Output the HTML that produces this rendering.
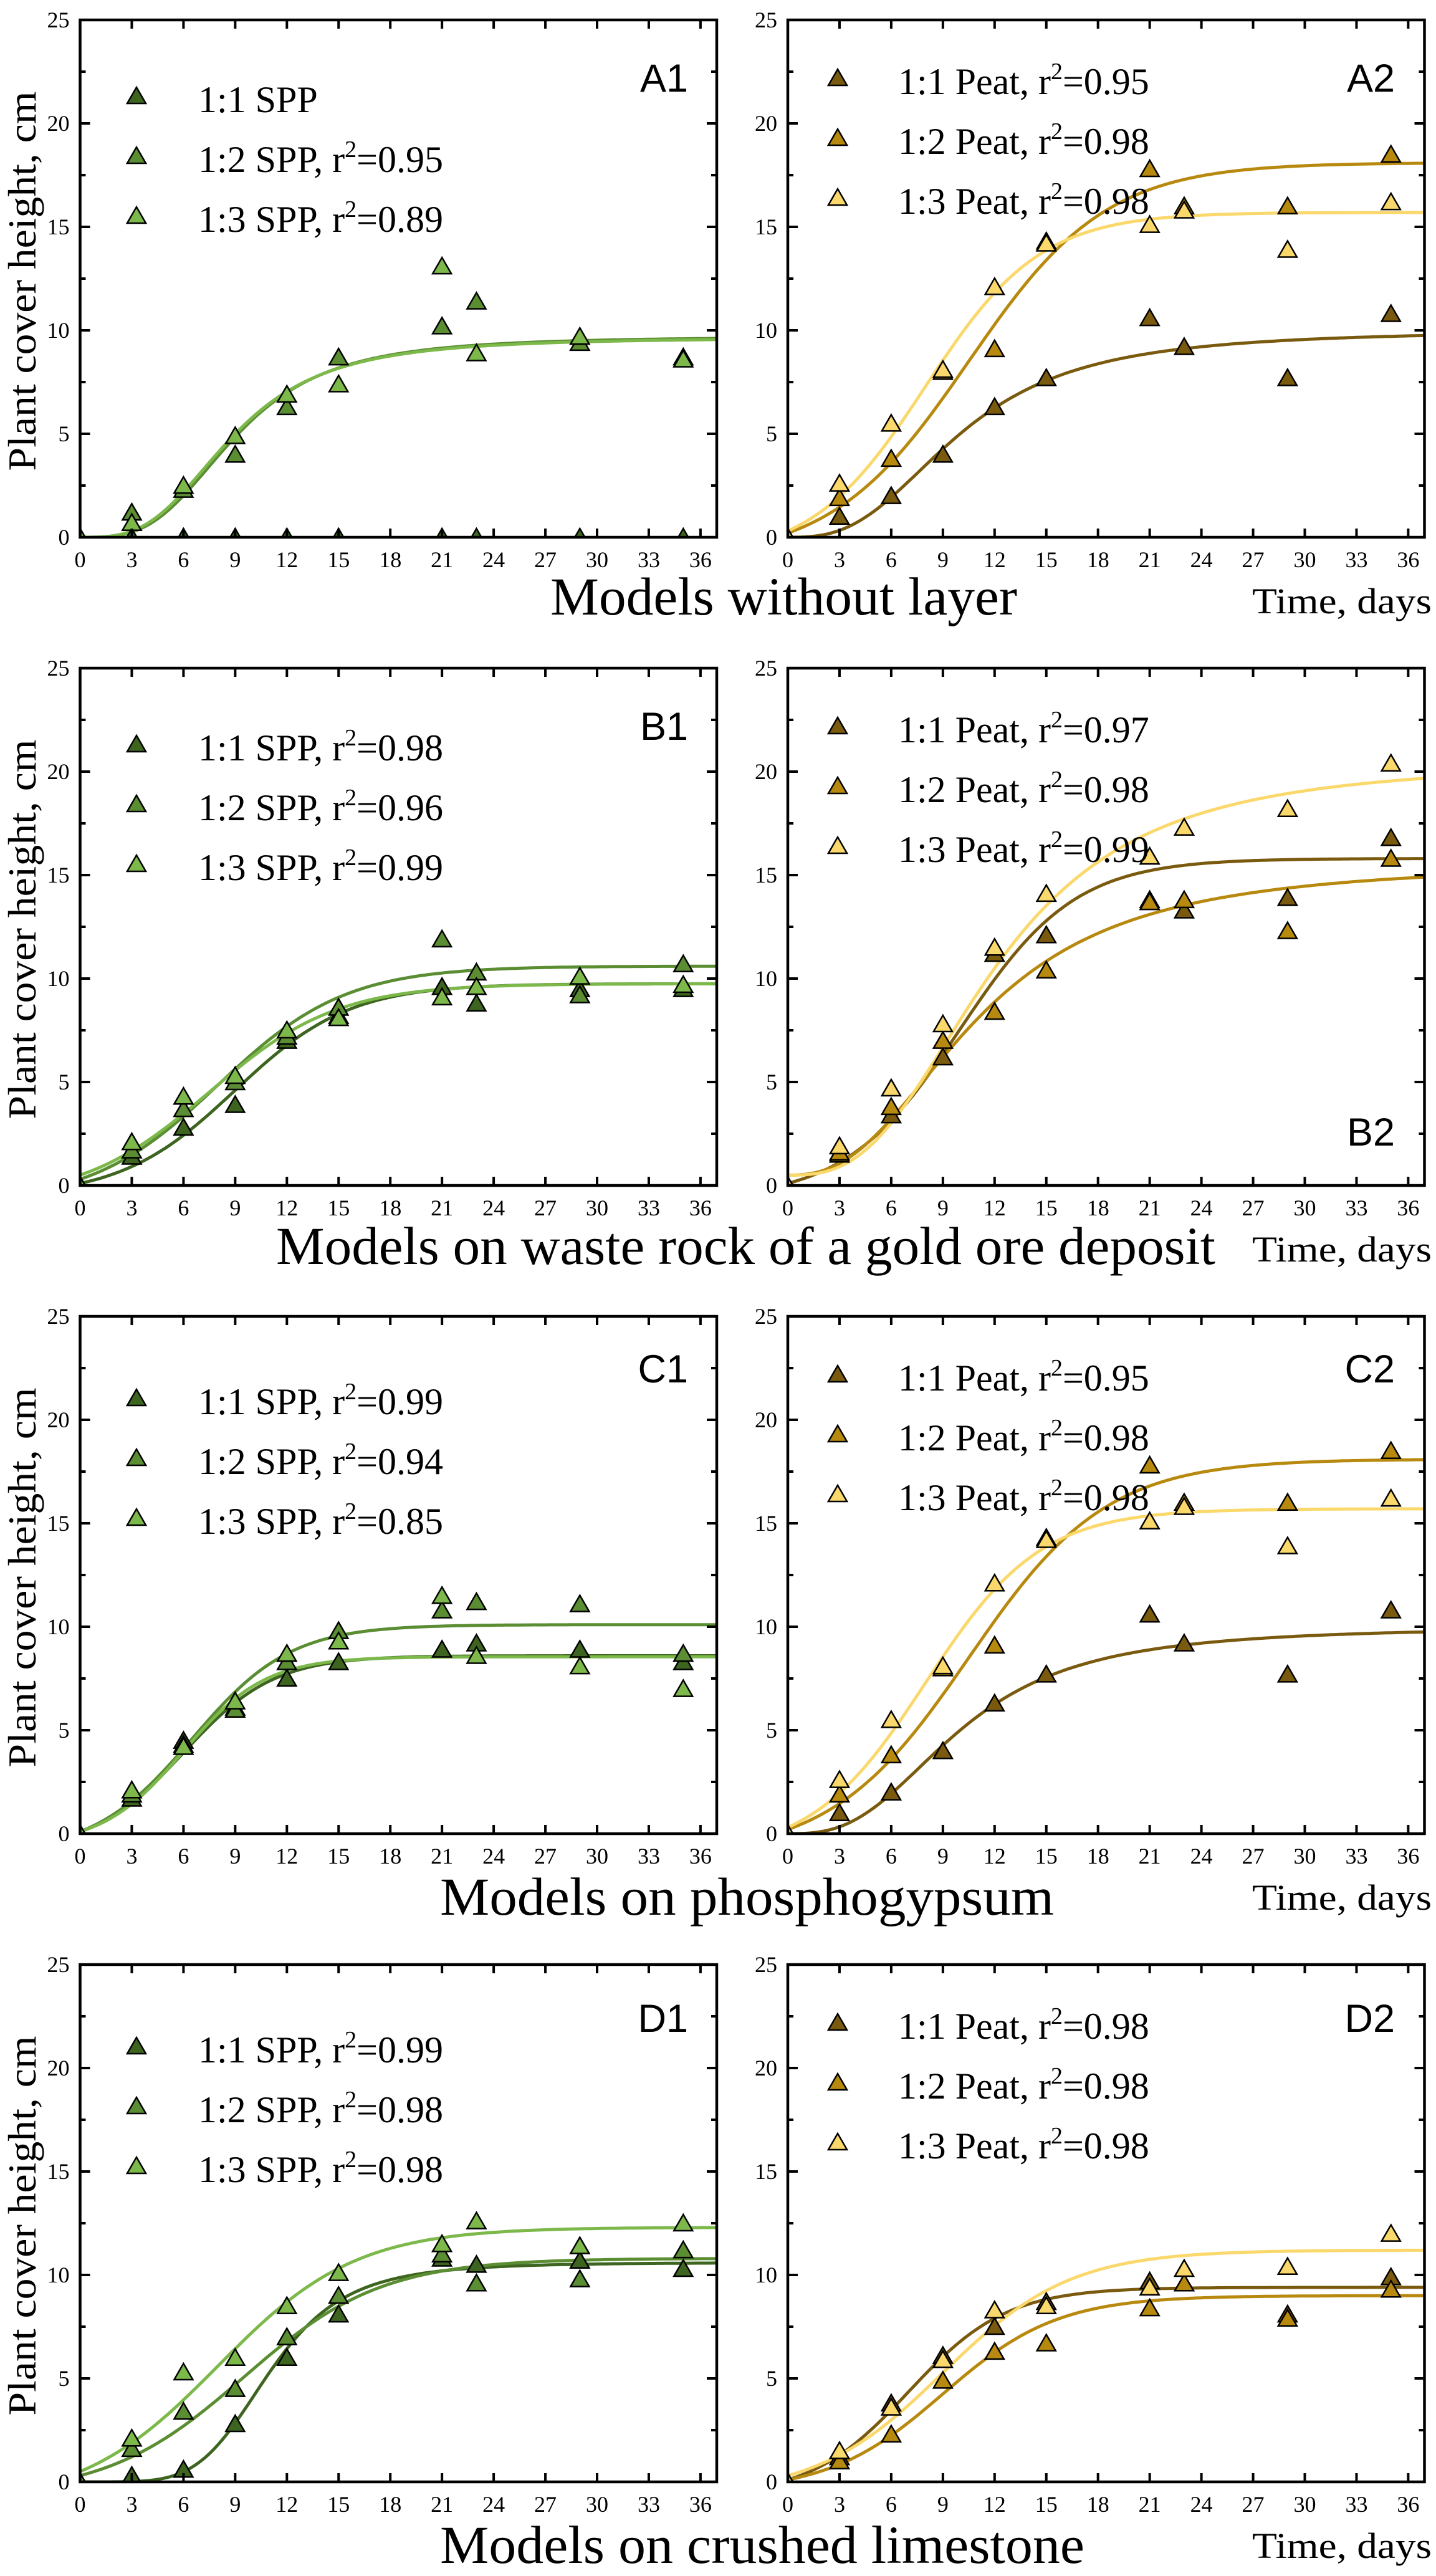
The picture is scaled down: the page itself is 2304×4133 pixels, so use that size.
<!DOCTYPE html>
<html><head><meta charset="utf-8"><style>
html,body{margin:0;padding:0;background:#fff}
svg{display:block}
text{font-family:"Liberation Serif",serif;fill:#000}
.lab{font-family:"Liberation Sans","DejaVu Sans",sans-serif;font-size:63px}
.tk{font-size:36px}
.lg{font-size:60px}
.ttl{font-size:86px}
.td{font-size:58px}
.yl{font-size:64px}
</style></head><body>
<svg id="s" xmlns="http://www.w3.org/2000/svg" xmlns:xlink="http://www.w3.org/1999/xlink" width="2304" height="4133" viewBox="0 0 2304 4133">
<defs>
<g id="tl" class="tk">
<text x="0" y="48" text-anchor="middle">0</text>
<text x="82.95" y="48" text-anchor="middle">3</text>
<text x="165.9" y="48" text-anchor="middle">6</text>
<text x="248.85" y="48" text-anchor="middle">9</text>
<text x="331.8" y="48" text-anchor="middle">12</text>
<text x="414.75" y="48" text-anchor="middle">15</text>
<text x="497.7" y="48" text-anchor="middle">18</text>
<text x="580.65" y="48" text-anchor="middle">21</text>
<text x="663.6" y="48" text-anchor="middle">24</text>
<text x="746.55" y="48" text-anchor="middle">27</text>
<text x="829.5" y="48" text-anchor="middle">30</text>
<text x="912.45" y="48" text-anchor="middle">33</text>
<text x="995.4" y="48" text-anchor="middle">36</text>
<text x="-17" y="12" text-anchor="end">0</text>
<text x="-17" y="-154" text-anchor="end">5</text>
<text x="-17" y="-320" text-anchor="end">10</text>
<text x="-17" y="-486" text-anchor="end">15</text>
<text x="-17" y="-652" text-anchor="end">20</text>
<text x="-17" y="-818" text-anchor="end">25</text>
</g>
</defs>
<g id="plots"></g>

<!-- tick labels -->
<use xlink:href="#tl" href="#tl" x="128.5" y="862"/>
<use xlink:href="#tl" href="#tl" x="1264" y="862"/>
<use xlink:href="#tl" href="#tl" x="128.5" y="1902"/>
<use xlink:href="#tl" href="#tl" x="1264" y="1902"/>
<use xlink:href="#tl" href="#tl" x="128.5" y="2942"/>
<use xlink:href="#tl" href="#tl" x="1264" y="2942"/>
<use xlink:href="#tl" href="#tl" x="128.5" y="3982"/>
<use xlink:href="#tl" href="#tl" x="1264" y="3982"/>

<!-- y axis labels -->
<text class="yl" transform="translate(57,451) rotate(-90)" text-anchor="middle" textLength="609" lengthAdjust="spacingAndGlyphs">Plant cover height, cm</text>
<text class="yl" transform="translate(57,1491) rotate(-90)" text-anchor="middle" textLength="609" lengthAdjust="spacingAndGlyphs">Plant cover height, cm</text>
<text class="yl" transform="translate(57,2531) rotate(-90)" text-anchor="middle" textLength="609" lengthAdjust="spacingAndGlyphs">Plant cover height, cm</text>
<text class="yl" transform="translate(57,3571) rotate(-90)" text-anchor="middle" textLength="609" lengthAdjust="spacingAndGlyphs">Plant cover height, cm</text>

<!-- titles -->
<text class="ttl" x="883" y="986" textLength="749" lengthAdjust="spacingAndGlyphs">Models without layer</text>
<text class="ttl" x="443" y="2028" textLength="1507" lengthAdjust="spacingAndGlyphs">Models on waste rock of a gold ore deposit</text>
<text class="ttl" x="706" y="3072" textLength="985" lengthAdjust="spacingAndGlyphs">Models on phosphogypsum</text>
<text class="ttl" x="706" y="4112" textLength="1034" lengthAdjust="spacingAndGlyphs">Models on crushed limestone</text>
<text class="td" x="2009" y="984" textLength="288" lengthAdjust="spacingAndGlyphs">Time, days</text>
<text class="td" x="2009" y="2024" textLength="288" lengthAdjust="spacingAndGlyphs">Time, days</text>
<text class="td" x="2009" y="3064" textLength="288" lengthAdjust="spacingAndGlyphs">Time, days</text>
<text class="td" x="2009" y="4104" textLength="288" lengthAdjust="spacingAndGlyphs">Time, days</text>

<!-- panel labels -->
<text class="lab" x="1104" y="147" text-anchor="end">A1</text>
<text class="lab" x="2238" y="147" text-anchor="end">A2</text>
<text class="lab" x="1104" y="1187" text-anchor="end">B1</text>
<text class="lab" x="2238" y="1838" text-anchor="end">B2</text>
<text class="lab" x="1104" y="2218" text-anchor="end">C1</text>
<text class="lab" x="2238" y="2218" text-anchor="end">C2</text>
<text class="lab" x="1104" y="3260" text-anchor="end">D1</text>
<text class="lab" x="2238" y="3260" text-anchor="end">D2</text>

<!-- legends -->
<g class="lg">
<text x="318" y="180">1:1 SPP</text>
<text x="318" y="276">1:2 SPP, r<tspan dy="-24" font-size="38">2</tspan><tspan dy="24">=0.95</tspan></text>
<text x="318" y="372">1:3 SPP, r<tspan dy="-24" font-size="38">2</tspan><tspan dy="24">=0.89</tspan></text>
<text x="1441" y="151">1:1 Peat, r<tspan dy="-24" font-size="38">2</tspan><tspan dy="24">=0.95</tspan></text>
<text x="1441" y="247">1:2 Peat, r<tspan dy="-24" font-size="38">2</tspan><tspan dy="24">=0.98</tspan></text>
<text x="1441" y="343">1:3 Peat, r<tspan dy="-24" font-size="38">2</tspan><tspan dy="24">=0.98</tspan></text>

<text x="318" y="1220">1:1 SPP, r<tspan dy="-24" font-size="38">2</tspan><tspan dy="24">=0.98</tspan></text>
<text x="318" y="1316">1:2 SPP, r<tspan dy="-24" font-size="38">2</tspan><tspan dy="24">=0.96</tspan></text>
<text x="318" y="1412">1:3 SPP, r<tspan dy="-24" font-size="38">2</tspan><tspan dy="24">=0.99</tspan></text>
<text x="1441" y="1191">1:1 Peat, r<tspan dy="-24" font-size="38">2</tspan><tspan dy="24">=0.97</tspan></text>
<text x="1441" y="1287">1:2 Peat, r<tspan dy="-24" font-size="38">2</tspan><tspan dy="24">=0.98</tspan></text>
<text x="1441" y="1383">1:3 Peat, r<tspan dy="-24" font-size="38">2</tspan><tspan dy="24">=0.99</tspan></text>

<text x="318" y="2269">1:1 SPP, r<tspan dy="-24" font-size="38">2</tspan><tspan dy="24">=0.99</tspan></text>
<text x="318" y="2365">1:2 SPP, r<tspan dy="-24" font-size="38">2</tspan><tspan dy="24">=0.94</tspan></text>
<text x="318" y="2461">1:3 SPP, r<tspan dy="-24" font-size="38">2</tspan><tspan dy="24">=0.85</tspan></text>
<text x="1441" y="2231">1:1 Peat, r<tspan dy="-24" font-size="38">2</tspan><tspan dy="24">=0.95</tspan></text>
<text x="1441" y="2327">1:2 Peat, r<tspan dy="-24" font-size="38">2</tspan><tspan dy="24">=0.98</tspan></text>
<text x="1441" y="2423">1:3 Peat, r<tspan dy="-24" font-size="38">2</tspan><tspan dy="24">=0.98</tspan></text>

<text x="318" y="3309">1:1 SPP, r<tspan dy="-24" font-size="38">2</tspan><tspan dy="24">=0.99</tspan></text>
<text x="318" y="3405">1:2 SPP, r<tspan dy="-24" font-size="38">2</tspan><tspan dy="24">=0.98</tspan></text>
<text x="318" y="3501">1:3 SPP, r<tspan dy="-24" font-size="38">2</tspan><tspan dy="24">=0.98</tspan></text>
<text x="1441" y="3271">1:1 Peat, r<tspan dy="-24" font-size="38">2</tspan><tspan dy="24">=0.98</tspan></text>
<text x="1441" y="3367">1:2 Peat, r<tspan dy="-24" font-size="38">2</tspan><tspan dy="24">=0.98</tspan></text>
<text x="1441" y="3463">1:3 Peat, r<tspan dy="-24" font-size="38">2</tspan><tspan dy="24">=0.98</tspan></text>
</g>
</svg>
<script>
(function(){
var NS="http://www.w3.org/2000/svg";
var S=document.getElementById("plots");
var X=[128.5,1264],BOT=[862,1902,2942,3982],sx=27.65,sy=33.2,W=1021.5,H=830;
var G1="#3d6520",G2="#5b8d33",G3="#7cb84a",B1="#7a5a0e",B2="#b8890f",B3="#fbd86c";
function el(n,a,p){var e=document.createElementNS(NS,n);for(var k in a)e.setAttribute(k,a[k]);(p||S).appendChild(e);return e;}
function f(c,t){var ty=c[0],A=c[1],k=c[2],t0=c[3],y0=c[4];
 if(ty=="h"){var tn=Math.pow(t,k);return y0+(A-y0)*tn/(Math.pow(t0,k)+tn);}
 var L=function(x){return 1/(1+Math.exp(-k*(x-t0)));};var L0=L(0);
 return y0+(A-y0)*(L(t)-L0)/(1-L0);}
var T=[3,6,9,12,15,21,23,29,35];
function P(v){var r=[[0,0]];for(var i=0;i<T.length;i++)r.push([T[i],v[i]]);return r;}
var A2={curves:[["h",10,2.8,10,0,B1],["l",18.1,0.25,10.5,0.2,B2],["l",15.7,0.3,8,0.3,B3]],
 pts:[[B1,P([1.0,2.0,4.0,6.3,7.7,10.6,9.2,7.7,10.8])],[B2,P([1.9,3.8,8.0,9.1,14.3,17.8,16.0,16.0,18.5])],[B3,P([2.6,5.5,8.1,12.1,14.2,15.1,15.8,13.9,16.2])]]};
var panels=[
 [0,0,{curves:[["h",9.7,3.3,9,0,G2],["h",9.65,3.2,8.8,0,G3]],
  pts:[[G1,P([0,0,0,0,0,0,0,0,0])],[G2,P([1.2,2.3,4.0,6.3,8.7,10.2,11.4,9.4,8.7])],[G3,P([0.7,2.5,4.9,6.9,7.4,13.1,8.9,9.7,8.6])]]}],
 [1,0,A2],
 [0,1,{curves:[["l",9.75,0.3,9,0.1,G1],["l",10.6,0.27,8,0.3,G2],["l",9.75,0.27,7.5,0.5,G3]],
  pts:[[G1,P([1.4,2.8,3.9,7.0,8.2,9.6,8.8,9.5,9.5])],[G2,P([1.7,3.7,5.0,7.2,8.6,11.9,10.3,9.2,10.7])],[G3,P([2.1,4.3,5.3,7.5,8.1,9.1,9.6,10.1,9.7])]]}],
 [1,1,{curves:[["l",15.8,0.3,10,0.1,B1],["h",15.6,2.5,11,0.5,B2],["h",20.5,2.8,12,0.5,B3]],
  pts:[[B1,P([1.5,3.4,6.2,11.2,12.1,13.8,13.3,13.9,16.8])],[B2,P([1.6,3.8,7.0,8.4,10.4,13.7,13.8,12.3,15.8])],[B3,P([1.9,4.7,7.8,11.5,14.1,15.9,17.3,18.2,20.4])]]}],
 [0,2,{curves:[["l",8.6,0.38,6,0.1,G1],["l",10.1,0.35,6.5,0.1,G2],["l",8.55,0.42,6,0.1,G3]],
  pts:[[G1,P([1.7,4.5,6.1,7.5,8.3,8.9,9.2,8.9,8.3])],[G2,P([1.9,4.3,6.0,8.3,9.8,10.8,11.2,11.1,8.7])],[G3,P([2.1,4.2,6.4,8.7,9.3,11.5,8.6,8.1,7.0])]]}],
 [1,2,A2],
 [0,3,{curves:[["h",10.6,5,11,0,G1],["l",10.8,0.25,9.5,0.3,G2],["l",12.3,0.25,8,0.5,G3]],
  pts:[[G1,P([0.3,0.6,2.8,6.0,8.1,10.8,10.5,10.7,10.3])],[G2,P([1.6,3.4,4.5,7.0,9.0,11.0,9.6,9.8,11.2])],[G3,P([2.1,5.3,6.0,8.5,10.1,11.5,12.6,11.4,12.5])]]}],
 [1,3,{curves:[["l",9.4,0.35,7,0.1,B1],["l",9.0,0.3,9,0.1,B2],["l",11.2,0.27,9,0.3,B3]],
  pts:[[B1,P([1.2,3.8,6.1,7.5,8.7,9.7,9.6,8.1,9.9])],[B2,P([1.0,2.3,4.9,6.3,6.7,8.4,9.6,7.9,9.3])],[B3,P([1.5,3.6,5.9,8.3,8.5,9.4,10.3,10.4,12.0])]]}]
];
var defs=el("defs",{});
function tri(cx,cy,col,p){el("path",{d:"M"+cx+","+(cy-14)+"L"+(cx+15)+","+(cy+12)+"L"+(cx-15)+","+(cy+12)+"Z",fill:col,stroke:"#000","stroke-width":"2.5","stroke-linejoin":"miter"},p);}
panels.forEach(function(pp,idx){
 var x0=X[pp[0]],yb=BOT[pp[1]],d=pp[2],yt=yb-H;
 var cid="c"+idx;var cp=el("clipPath",{id:cid},defs);el("rect",{x:x0,y:yt,width:W,height:H},cp);
 var g=el("g",{"clip-path":"url(#"+cid+")"});
 d.curves.forEach(function(c){var s="";for(var t=0;t<=37;t+=0.25){s+=(t?"L":"M")+(x0+t*sx).toFixed(1)+","+(yb-f(c,t)*sy).toFixed(1);}
  el("path",{d:s,fill:"none",stroke:c[5],"stroke-width":"5"},g);});
 d.pts.forEach(function(s){s[1].forEach(function(p){tri(x0+p[0]*sx,yb-p[1]*sy,s[0],g);});});
 // frame & ticks
 var tk="";
 for(var t=3;t<=36;t+=3){var x=x0+t*sx;tk+="M"+x+","+yb+"v-14M"+x+","+yt+"v14";}
 for(var v=2.5;v<25;v+=2.5){var y=yb-v*sy,L=(Math.round(v/2.5)%2==0)?16:9;tk+="M"+x0+","+y+"h"+L+"M"+(x0+W)+","+y+"h-"+L;}
 el("path",{d:tk,stroke:"#000","stroke-width":"4",fill:"none"});
 el("rect",{x:x0,y:yt,width:W,height:H,fill:"none",stroke:"#000","stroke-width":"4.5"});
});
// legend markers
var LM=[[219,154,G1,G2,G3],[1344,125,B1,B2,B3],[219,1194,G1,G2,G3],[1344,1165,B1,B2,B3],[219,2243,G1,G2,G3],[1344,2205,B1,B2,B3],[219,3283,G1,G2,G3],[1344,3245,B1,B2,B3]];
LM.forEach(function(m){for(var i=0;i<3;i++)tri(m[0],m[1]+i*96,m[2+i],S);});
})();
</script>
</body></html>
